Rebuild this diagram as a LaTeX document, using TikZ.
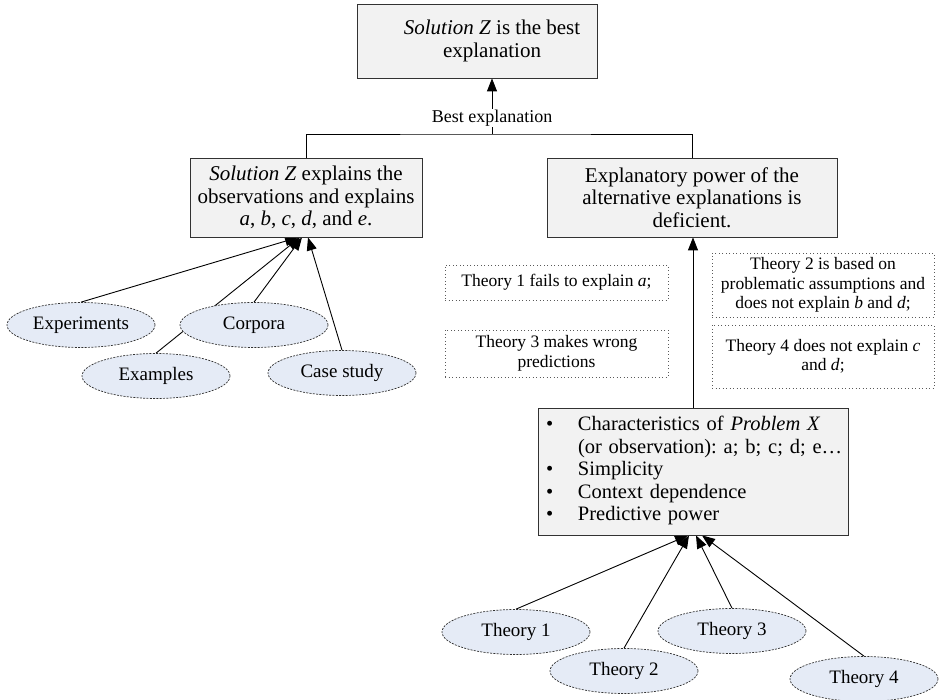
\documentclass[tikz,border=0pt]{standalone}
\usepackage{fontspec}
\setmainfont{Liberation Serif}
\usetikzlibrary{shapes.geometric,arrows.meta}
\pgfdeclarelayer{bg}
\pgfsetlayers{bg,main}
\definecolor{boxfill}{RGB}{242,242,242}
\definecolor{boxline}{RGB}{50,50,50}
\definecolor{ellfill}{RGB}{229,235,246}
\definecolor{dotline}{RGB}{90,90,90}
\newcommand{\bigbul}{\textbullet}
\frenchspacing
\begin{document}
\begin{tikzpicture}[x=1pt,y=-1pt,
  gbox/.style={draw=boxline, line width=0.8pt, fill=boxfill, inner sep=0pt, align=center,
    font=\fontsize{21}{22.5}\selectfont},
  ell/.style={ellipse, draw=boxline, line width=0.7pt, dash pattern=on 2pt off 1.3pt, fill=ellfill,
    minimum width=148pt, minimum height=45pt, inner sep=0pt, font=\fontsize{19}{21}\selectfont},
  dbox/.style={draw=dotline, line width=0.8pt, dash pattern=on 0.9pt off 2.6pt, inner sep=0pt,
    align=center, font=\fontsize{17.5}{19.5}\selectfont},
  conn/.style={line width=0.9pt, draw=black},
  arr/.style={conn, -{Triangle[length=13pt,width=10pt]}}
]
\useasboundingbox (0,0) rectangle (946,700);

% main boxes
\node[gbox, minimum width=240pt, minimum height=74pt] (top) at (477,41)
  {\hspace*{30pt}\textit{Solution Z} is the best\\\hspace*{30pt}explanation};
\node[inner sep=1pt, font=\fontsize{18}{20}\selectfont] (lbl) at (492,118) {Best explanation};
\node[gbox, minimum width=232pt, minimum height=79pt] (lbox) at (306,197.5)
  {\textit{Solution Z} explains the\\observations and explains\\\textit{a}, \textit{b}, \textit{c}, \textit{d}, and \textit{e}.};
\node[gbox, minimum width=290pt, minimum height=79pt] (rbox) at (692,197.5)
  {Explanatory power of the\\alternative explanations is\\deficient.};
\node[gbox, align=left, text width=310pt, minimum height=127pt, font=\fontsize{20.5}{22.5}\selectfont] (bul) at (693,471.5)
  {\noindent\begin{tabular}{@{\hspace{8pt}}p{32pt}@{}l@{}}
   \bigbul & Characteristics of \textit{Problem X}\\
           & (or observation): a; b; c; d; e…\\
   \bigbul & Simplicity\\
   \bigbul & Context dependence\\
   \bigbul & Predictive power
   \end{tabular}};

% dotted notes
\node[dbox, minimum width=223pt, minimum height=35pt] (n1) at (556.5,282.5) {Theory 1 fails to explain \textit{a};};
\node[dbox, minimum width=223pt, minimum height=47pt] (n3) at (556.5,353.5) {Theory 3 makes wrong\\predictions};
\node[dbox, minimum width=222pt, minimum height=64pt] (n2) at (823,285) {Theory 2 is based on\\problematic assumptions and\\does not explain \textit{b} and \textit{d};};
\node[dbox, minimum width=222pt, minimum height=63pt] (n4) at (823,356.5) {Theory 4 does not explain \textit{c}\\and \textit{d};};

% ellipses, left
\node[ell] (exp) at (81,325) {Experiments};
\node[ell] (corp) at (254,325) {Corpora};
\node[ell] (exa) at (156,376) {Examples};
\node[ell] (cs) at (342,373) {Case study};

% ellipses, theories
\node[ell] (t1) at (516,632) {Theory 1};
\node[ell] (t2) at (624,671) {Theory 2};
\node[ell] (t3) at (732,631) {Theory 3};
\node[ell] (t4) at (864,679) {Theory 4};

\coordinate (bj) at (492,134);

\begin{pgfonlayer}{bg}
  \draw[arr] (lbl.north) -- (lbl.north |- top.south);
  \draw[conn] (lbl.south) -- (bj);
  \draw[conn] (lbox.north) |- (bj) -| (rbox.north);

  \draw[arr] (exp.north) -- ([xshift=-8pt]lbox.south);
  \draw[arr] (exa.north) -- ([xshift=-6pt]lbox.south);
  \draw[arr] (corp.north) -- ([xshift=-4pt]lbox.south);
  \draw[arr] (cs.north) -- ([xshift=2pt]lbox.south);

  \draw[arr] (bul.north) -- (bul.north |- rbox.south);

  \draw[arr] (t1.north) -- ([xshift=-5pt]bul.south);
  \draw[arr] (t2.north) -- ([xshift=-4pt]bul.south);
  \draw[arr] (t3.north) -- ([xshift=3pt]bul.south);
  \draw[arr] (t4.north) -- ([xshift=9pt]bul.south);
\end{pgfonlayer}
\end{tikzpicture}
\end{document}
